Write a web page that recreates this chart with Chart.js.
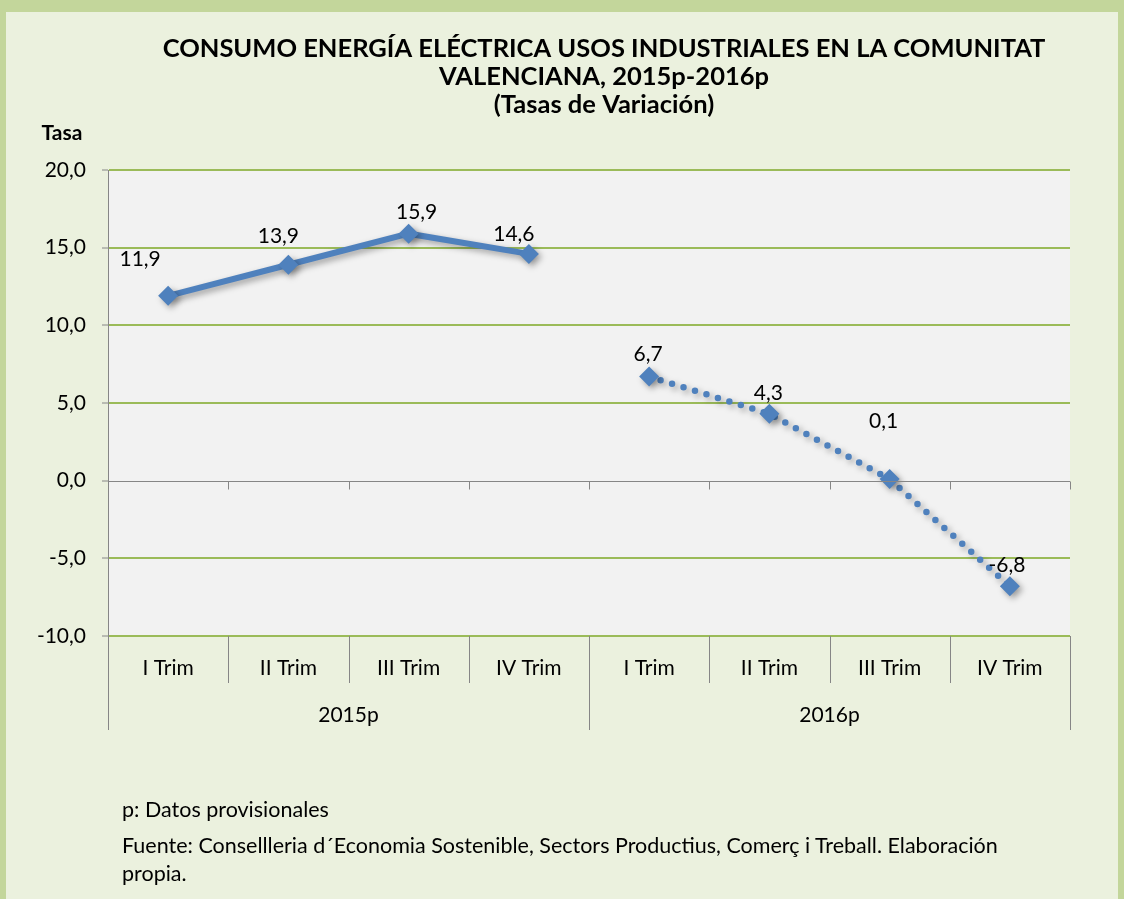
<!DOCTYPE html>
<html>
<head>
<meta charset="utf-8">
<script src="https://cdn.jsdelivr.net/npm/chart.js@4"></script>
<style>
  body { margin: 0; background: #c3d69b; font-family: Lato, sans-serif; }
  #frame { position: absolute; left: 6px; top: 12px; width: 1112px; height: 887px; background: #ebf1de; }
  #wrap { position: absolute; left: 0; top: 0; width: 1124px; height: 899px; }
  .note { position: absolute; left: 122px; font-size: 21.5px; color: #000; white-space: nowrap; }
</style>
</head>
<body>
<div id="frame"></div>
<div id="wrap"><canvas id="chart"></canvas></div>
<div class="note" style="top:795px; line-height:28px;">p: Datos provisionales</div>
<div class="note" style="top:831px; line-height:28px;">Fuente: Consellleria d´Economia Sostenible, Sectors Productius, Comerç i Treball. Elaboración<br>propia.</div>
<script>
// quarters and years
const quarters = ['I Trim', 'II Trim', 'III Trim', 'IV Trim', 'I Trim', 'II Trim', 'III Trim', 'IV Trim'];
const years = ['2015p', '2016p'];
// tasas de variación
const rates2015 = [11.9, 13.9, 15.9, 14.6, null, null, null, null];
const rates2016 = [null, null, null, null, 6.7, 4.3, 0.1, -6.8];
const titleLines = ['CONSUMO ENERGÍA ELÉCTRICA USOS INDUSTRIALES EN LA COMUNITAT', 'VALENCIANA, 2015p-2016p', '(Tasas de Variación)'];

const blue = '#4f81bd';
const gray = '#868686';
const fmt = v => v.toFixed(1).replace('.', ',');

// label nudges (dx, dy from the point) as placed in the original
const labelNudge = [[-28, -37], [-10, -29], [8, -21], [-15, -20], [-1, -22], [-1, -21], [-6, -58], [-3, -21]];

const decor = {
    id: 'decor',
    beforeDraw(chart) {
        const { ctx, chartArea: a } = chart;
        ctx.save();
        ctx.fillStyle = '#f2f2f2';
        ctx.fillRect(a.left, a.top, a.right - a.left, a.bottom - a.top);
        ctx.restore();
    },
    afterDraw(chart) {
        const { ctx, chartArea: a, scales } = chart;
        const x = scales.x, y = scales.y;
        const step = x.getPixelForValue(1) - x.getPixelForValue(0);
        ctx.save();
        ctx.strokeStyle = gray;
        ctx.lineWidth = 1;
        // zero axis with ticks
        const y0 = Math.round(y.getPixelForValue(0)) + 0.5;
        ctx.beginPath();
        ctx.moveTo(a.left, y0); ctx.lineTo(a.right, y0);
        for (let i = 0; i <= quarters.length; i++) {
            const px = Math.round(x.getPixelForValue(i) - step / 2) + 0.5;
            ctx.moveTo(px, y0); ctx.lineTo(px, y0 + 8);
        }
        // category separators below the plot
        for (let i = 0; i <= quarters.length; i++) {
            const px = Math.round(x.getPixelForValue(i) - step / 2) + 0.5;
            const long = i % 4 === 0;
            ctx.moveTo(px, a.bottom); ctx.lineTo(px, a.bottom + (long ? 94 : 47));
        }
        ctx.stroke();
        // year labels
        ctx.fillStyle = '#000';
        ctx.font = '21px Lato';
        ctx.textAlign = 'center';
        ctx.textBaseline = 'middle';
        years.forEach((yr, k) => {
            const cx = (x.getPixelForValue(k * 4) + x.getPixelForValue(k * 4 + 3)) / 2;
            ctx.fillText(yr, cx, a.bottom + 79);
        });
        // data labels
        [rates2015, rates2016].forEach(arr => {
            arr.forEach((v, i) => {
                if (v === null) return;
                ctx.fillText(fmt(v), x.getPixelForValue(i) + labelNudge[i][0], y.getPixelForValue(v) + labelNudge[i][1]);
            });
        });
        // titles
        ctx.font = 'bold 25.5px Lato';
        titleLines.forEach((t, i) => ctx.fillText(t, 604, 49 + i * 28));
        ctx.font = 'bold 21px Lato';
        ctx.fillText('Tasa', 62, 133);
        ctx.restore();
    }
};

const shadow = {
    id: 'shadow',
    beforeDatasetDraw(chart) {
        const c = chart.ctx;
        c.save();
        c.shadowColor = 'rgba(0,0,0,0.35)';
        c.shadowBlur = 6;
        c.shadowOffsetX = 3;
        c.shadowOffsetY = 3;
    },
    afterDatasetDraw(chart) {
        chart.ctx.restore();
    }
};

new Chart(document.getElementById('chart'), {
    type: 'line',
    data: {
        labels: quarters,
        datasets: [{
            label: '2015p',
            data: rates2015,
            borderColor: blue,
            backgroundColor: blue,
            borderWidth: 6,
            pointStyle: 'rectRot',
            pointRadius: 10,
            pointBorderWidth: 0,
            spanGaps: false
        }, {
            label: '2016p',
            data: rates2016,
            borderColor: blue,
            backgroundColor: blue,
            borderWidth: 6.5,
            borderDash: [0, 12],
            borderCapStyle: 'round',
            pointStyle: 'rectRot',
            pointRadius: 10,
            pointBorderWidth: 0
        }]
    },
    options: {
        responsive: true,
        maintainAspectRatio: false,
        animation: false,
        layout: { padding: { left: 0, top: 170, right: 54, bottom: 0 } },
        plugins: {
            legend: { display: false },
            tooltip: { enabled: false }
        },
        scales: {
            x: {
                offset: true,
                grid: { display: false, offset: true },
                border: { display: false },
                ticks: { color: '#000', font: { family: 'Lato', size: 21 }, padding: 12, maxRotation: 0 },
                afterFit: s => { s.height = 263; s.paddingLeft = 0; s.paddingRight = 0; }
            },
            y: {
                min: -10,
                max: 20,
                ticks: { stepSize: 5, color: '#000', font: { family: 'Lato', size: 21 }, padding: 16, callback: v => fmt(v) },
                grid: {
                    color: c => c.tick && c.tick.value === 0 ? 'rgba(0,0,0,0)' : '#9bbb59',
                    lineWidth: 2,
                    tickColor: gray,
                    tickLength: 6,
                    tickWidth: 1
                },
                border: { color: gray, width: 1 },
                afterFit: s => { s.width = 108; }
            }
        }
    },
    plugins: [decor, shadow]
});
</script>
</body>
</html>
